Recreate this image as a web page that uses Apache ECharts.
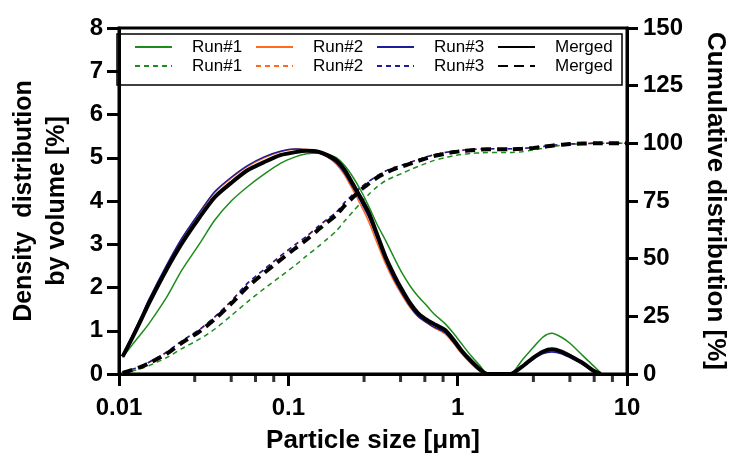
<!DOCTYPE html>
<html>
<head>
<meta charset="utf-8">
<script src="https://cdn.jsdelivr.net/npm/echarts@6/dist/echarts.min.js"></script>
<style>
  html, body { margin: 0; padding: 0; background: #fff; }
  #chart { width: 736px; height: 459px; }
</style>
</head>
<body>
<div id="chart"></div>
<script>
// Particle sizes [µm] shared by every series
const sizes = [0.0105, 0.012, 0.0135, 0.015, 0.019, 0.0235, 0.03, 0.0368, 0.046, 0.0574,
  0.072, 0.0898, 0.11, 0.128, 0.15, 0.17, 0.192, 0.215, 0.24, 0.27,
  0.30, 0.335, 0.375, 0.42, 0.47, 0.525, 0.585, 0.65, 0.72, 0.84,
  0.95, 1.05, 1.2, 1.37, 1.5, 2.04, 2.4, 2.8, 3.2, 3.6,
  4.1, 4.6, 5.5, 6.3, 7.0, 10];

// Density distribution by volume [%]
const densRun1 = [0.38, 0.68, 0.93, 1.16, 1.76, 2.40, 3.02, 3.56, 4.00, 4.33,
  4.62, 4.87, 5.02, 5.09, 5.11, 5.08, 5.00, 4.82, 4.56, 4.22,
  3.86, 3.45, 3.09, 2.70, 2.33, 2.03, 1.79, 1.60, 1.40, 1.17,
  0.93, 0.71, 0.42, 0.17, 0, 0, 0.32, 0.62, 0.86, 0.94,
  0.85, 0.71, 0.42, 0.20, 0.03, null];
const densRun2 = [0.42, 0.88, 1.30, 1.70, 2.48, 3.12, 3.73, 4.20, 4.53, 4.80,
  5.00, 5.14, 5.20, 5.19, 5.13, 5.02, 4.85, 4.60, 4.26, 3.88,
  3.50, 3.02, 2.55, 2.15, 1.82, 1.53, 1.32, 1.20, 1.08, 0.93,
  0.70, 0.48, 0.24, 0.05, 0, 0, 0.16, 0.36, 0.49, 0.53,
  0.49, 0.40, 0.23, 0.07, 0, null];
const densRun3 = [0.43, 0.90, 1.32, 1.72, 2.50, 3.14, 3.75, 4.22, 4.55, 4.82,
  5.02, 5.15, 5.20, 5.18, 5.12, 5.02, 4.88, 4.64, 4.32, 3.96,
  3.60, 3.12, 2.62, 2.20, 1.86, 1.56, 1.33, 1.20, 1.09, 0.96,
  0.72, 0.50, 0.26, 0.06, 0, 0, 0.15, 0.34, 0.47, 0.51,
  0.47, 0.38, 0.22, 0.06, 0, null];
const densMerged = [0.40, 0.84, 1.25, 1.63, 2.40, 3.02, 3.63, 4.09, 4.42, 4.71,
  4.90, 5.06, 5.13, 5.16, 5.14, 5.06, 4.94, 4.72, 4.40, 4.05,
  3.71, 3.22, 2.71, 2.30, 1.94, 1.63, 1.40, 1.26, 1.16, 1.02,
  0.78, 0.55, 0.30, 0.09, 0, 0, 0.17, 0.38, 0.52, 0.57,
  0.52, 0.42, 0.25, 0.08, 0, null];

// Cumulative distribution [%]
const cumRun1 = [0.4, 1.3, 2.4, 3.6, 7.0, 11.0, 15.2, 19.5, 25.3, 31.3,
  37.0, 42.3, 47.2, 51.2, 55.2, 58.6, 62.0, 66.3, 70.3, 74.5,
  78.0, 81.2, 83.8, 85.5, 87.0, 88.6, 90.0, 91.3, 92.5, 93.8,
  94.6, 95.2, 95.6, 95.9, 96.0, 96.0, 96.4, 97.1, 97.9, 98.6,
  99.1, 99.5, 99.8, 100, 100, 100];
const cumRun2 = [0.5, 2.0, 3.3, 5.0, 9.2, 14.2, 19.2, 24.6, 31.5, 39.2,
  45.2, 51.0, 56.0, 59.5, 63.8, 67.0, 70.0, 74.2, 77.6, 81.0,
  83.5, 86.0, 88.0, 89.5, 90.6, 91.8, 93.0, 94.1, 95.0, 96.0,
  96.6, 97.0, 97.3, 97.5, 97.6, 97.6, 97.8, 98.2, 98.6, 99.1,
  99.5, 99.7, 99.9, 100, 100, 100];
const cumRun3 = [0.5, 2.1, 3.4, 5.1, 9.4, 14.4, 19.4, 24.8, 31.7, 39.4,
  45.4, 51.2, 56.2, 59.7, 64.0, 67.2, 70.2, 74.4, 77.8, 81.1,
  83.6, 86.0, 88.0, 89.5, 90.6, 91.8, 93.0, 94.1, 95.0, 96.0,
  96.6, 97.0, 97.3, 97.5, 97.6, 97.6, 97.8, 98.2, 98.6, 99.1,
  99.5, 99.7, 99.9, 100, 100, 100];
const cumMerged = [0.5, 1.8, 3.1, 4.6, 8.7, 13.5, 18.5, 23.8, 30.5, 37.8,
  43.8, 49.5, 54.5, 58.2, 62.5, 65.8, 69.0, 73.0, 76.5, 80.0,
  82.6, 85.2, 87.2, 88.8, 90.0, 91.2, 92.4, 93.5, 94.5, 95.5,
  96.2, 96.6, 97.0, 97.3, 97.4, 97.4, 97.6, 98.0, 98.5, 99.0,
  99.4, 99.7, 99.9, 100, 100, 100];

// Minor tick positions along the size axis
const minorTicks = [0.028, 0.046, 0.064, 0.082, 0.28, 0.46, 0.64, 0.82, 2.8, 4.6, 6.4, 8.2];

const densTicks = [0, 1, 2, 3, 4, 5, 6, 7, 8];
const cumTicks = [0, 25, 50, 75, 100, 125, 150];

const FONT = "'Liberation Sans', Arial, sans-serif";
const GREEN = '#1c8c1c', ORANGE = '#ff6a1c', BLUE = '#1c1c9c', BLACK = '#000';
const CUM = ' cumulative';

function pairs(vals) {
  return sizes.map((s, i) => [s, vals[i] == null ? '-' : vals[i]]);
}

function line(name, vals, color, width, dashed, yIdx, z) {
  return {
    name: name,
    type: 'line',
    xAxisIndex: 0,
    yAxisIndex: yIdx,
    data: pairs(vals),
    symbol: 'none',
    smooth: 0.25,
    z: z,
    lineStyle: { color: color, width: width, type: dashed || 'solid', cap: 'butt' },
    itemStyle: { color: color },
    emphasis: { disabled: true }
  };
}

const chart = echarts.init(document.getElementById('chart'), null, { renderer: 'canvas' });

chart.setOption({
  animation: false,
  backgroundColor: '#fff',
  textStyle: { fontFamily: FONT },
  grid: {
    left: 113, right: 106, top: 28, bottom: 85,
    show: true, borderColor: '#000', borderWidth: 3, backgroundColor: 'transparent'
  },
  legend: {
    left: 117, top: 34,
    width: 490,
    padding: [4, 5, 10, 17],
    borderColor: '#000', borderWidth: 1.5,
    itemWidth: 37, itemHeight: 14, itemGap: 1,
    selectedMode: false,
    itemStyle: { opacity: 0 },
    textStyle: { fontFamily: FONT, fontSize: 17, color: '#000', width: 62, lineHeight: 18, padding: [0, 0, 0, 15] },
    formatter: (n) => n.replace(CUM, ''),
    data: ['Run#1', 'Run#2', 'Run#3', 'Merged',
      'Run#1' + CUM, 'Run#2' + CUM, 'Run#3' + CUM, 'Merged' + CUM]
  },
  xAxis: {
    type: 'log', logBase: 10, min: 0.01, max: 10,
    name: 'Particle size [μm]', nameLocation: 'middle', nameGap: 54,
    nameTextStyle: { fontFamily: FONT, fontSize: 26, fontWeight: 'bold', color: '#000' },
    axisLine: { show: true, lineStyle: { color: '#000', width: 3 } },
    axisTick: { show: true, inside: false, length: 12, lineStyle: { color: '#000', width: 3 } },
    minorTick: { show: false },
    splitLine: { show: false },
    axisLabel: {
      margin: 22, fontFamily: FONT, fontSize: 24, fontWeight: 'bold', color: '#000',
      formatter: (v) => String(v)
    }
  },
  yAxis: [{
    type: 'value', min: densTicks[0], max: densTicks[densTicks.length - 1], interval: 1,
    position: 'left',
    name: 'Density  distribution\nby volume [%]', nameLocation: 'middle', nameGap: 45, nameRotate: 90,
    nameTextStyle: { fontFamily: FONT, fontSize: 25, fontWeight: 'bold', color: '#000', lineHeight: 33, align: 'center' },
    axisLine: { show: true, lineStyle: { color: '#000', width: 3 } },
    axisTick: { show: true, length: 12, lineStyle: { color: '#000', width: 3 } },
    splitLine: { show: false },
    axisLabel: { margin: 16, fontFamily: FONT, fontSize: 24, fontWeight: 'bold', color: '#000' }
  }, {
    type: 'value', min: cumTicks[0], max: cumTicks[cumTicks.length - 1], interval: 25,
    position: 'right',
    name: 'Cumulative distribution [%]', nameLocation: 'middle', nameGap: 75, nameRotate: -90,
    nameTextStyle: { fontFamily: FONT, fontSize: 26, fontWeight: 'bold', color: '#000' },
    axisLine: { show: true, lineStyle: { color: '#000', width: 3 } },
    axisTick: { show: true, length: 11, lineStyle: { color: '#000', width: 3 } },
    splitLine: { show: false },
    axisLabel: { margin: 16, fontFamily: FONT, fontSize: 24, fontWeight: 'bold', color: '#000' }
  }],
  series: [
    line('Run#1', densRun1, GREEN, 1.5, null, 0, 3),
    line('Run#2', densRun2, ORANGE, 1.5, null, 0, 3),
    line('Run#3', densRun3, BLUE, 1.5, null, 0, 3),
    line('Run#1' + CUM, cumRun1, GREEN, 1.5, [5, 4], 1, 3),
    line('Run#2' + CUM, cumRun2, ORANGE, 1.5, [5, 4], 1, 3),
    line('Run#3' + CUM, cumRun3, BLUE, 1.5, [5, 4], 1, 3),
    line('Merged', densMerged, BLACK, 4, null, 0, 4),
    line('Merged' + CUM, cumMerged, BLACK, 4, [10, 6], 1, 4),
    {
      // minor ticks hanging under the size axis
      type: 'scatter',
      xAxisIndex: 0, yAxisIndex: 0,
      data: minorTicks.map((v) => [v, 0]),
      symbol: 'rect', symbolSize: [3, 7], symbolOffset: [0, 4.5],
      itemStyle: { color: '#000' },
      silent: true, clip: false, z: 1,
      emphasis: { disabled: true }
    }
  ]
});
</script>
</body>
</html>
